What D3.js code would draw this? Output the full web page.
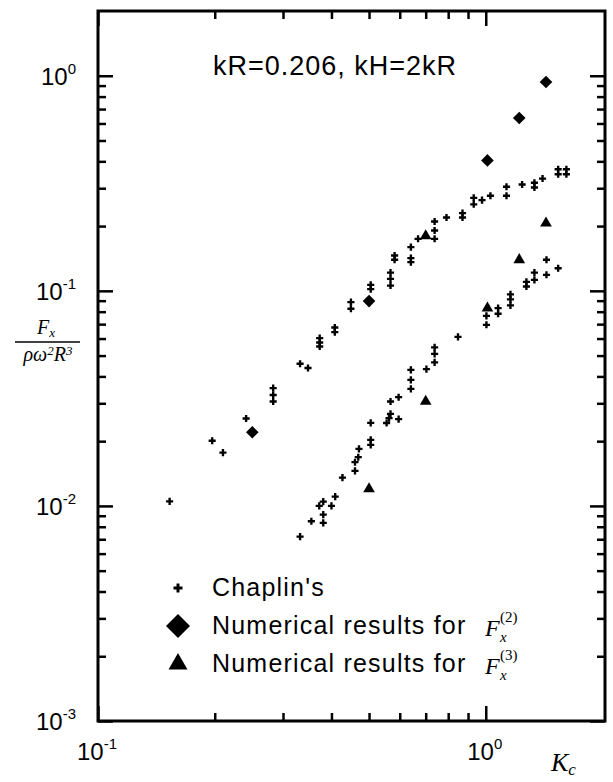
<!DOCTYPE html>
<html lang="en">
<head>
  <meta charset="UTF-8">
  <title>Fx vs Kc</title>
  <script src="https://d3js.org/d3.v7.min.js"></script>
  <style>
    body { margin: 0; background: #fff; }
    svg { display: block; }
    .sans { font-family: "Liberation Sans", Arial, Helvetica, sans-serif; fill: #000; }
    .serif { font-family: "Liberation Serif", "Times New Roman", serif; font-style: italic; fill: #000; }
  </style>
</head>
<body>
  <svg id="chart" width="613" height="782"></svg>

  <script>
    // Chaplin's measurements: K_c and Fx / (rho w^2 R^3)
    const chaplinK = [
      0.153, 0.197, 0.210, 0.241, 0.283, 0.283, 0.283, 0.332, 0.348, 0.373, 0.373, 0.373,
      0.408, 0.408, 0.449, 0.449, 0.505, 0.505, 0.568, 0.568, 0.568, 0.582, 0.582, 0.641,
      0.641, 0.641, 0.669, 0.738, 0.738, 0.738, 0.792, 0.871, 0.871, 0.931, 0.931, 0.978,
      1.028, 1.131, 1.131, 1.241, 1.335, 1.335, 1.401, 1.537, 1.537, 1.614, 1.614,
      0.332, 0.355, 0.372, 0.381, 0.400, 0.381, 0.381, 0.409, 0.427, 0.460, 0.460, 0.469,
      0.471, 0.505, 0.505, 0.505, 0.555, 0.563, 0.568, 0.596, 0.568, 0.596, 0.641, 0.641,
      0.641, 0.703, 0.738, 0.738, 0.738, 0.848, 1.004, 1.004, 1.076, 1.076, 1.158, 1.158,
      1.158, 1.273, 1.273, 1.335, 1.335, 1.434, 1.434, 1.537
    ];
    const chaplinF = [
      0.0105, 0.0201, 0.0177, 0.0255, 0.0353, 0.0328, 0.0306, 0.0458, 0.0438, 0.0603, 0.0575, 0.0551,
      0.0675, 0.0643, 0.0886, 0.0825, 0.1066, 0.1018, 0.1216, 0.1137, 0.1058, 0.1459, 0.1394, 0.1597,
      0.1419, 0.1360, 0.1745, 0.1745, 0.1908, 0.2100, 0.2192, 0.2298, 0.2192, 0.2707, 0.2525, 0.2642,
      0.2766, 0.3046, 0.2766, 0.3122, 0.3179, 0.3023, 0.3326, 0.3674, 0.3483, 0.3674, 0.3483,
      0.0072, 0.00849, 0.0100, 0.01047, 0.0100, 0.00911, 0.00834, 0.01105, 0.01354, 0.01455, 0.01597, 0.01685,
      0.01841, 0.02028, 0.01922, 0.02432, 0.0243, 0.02558, 0.02679, 0.02531, 0.0306, 0.03203, 0.04291, 0.03855,
      0.03501, 0.04323, 0.0546, 0.0509, 0.0465, 0.0611, 0.0765, 0.0695, 0.0831, 0.0782, 0.0963, 0.0913,
      0.0856, 0.1101, 0.1047, 0.1216, 0.1125, 0.1394, 0.1187, 0.1273
    ];

    // Numerical results for F_x^(2) (diamonds)
    const f2K = [0.25, 0.50, 1.01, 1.22, 1.43];
    const f2F = [0.0220, 0.0896, 0.404, 0.636, 0.935];

    // Numerical results for F_x^(3) (triangles)
    const f3K = [0.50, 0.70, 0.70, 1.01, 1.22, 1.43];
    const f3F = [0.0120, 0.0306, 0.180, 0.0831, 0.1394, 0.2064];

    // Axis ticks and labels
    const xMajorTicks = [0.1, 1];
    const xTickExps = ["-1", "0"];
    const xMinorTicks = [0.2, 0.3, 0.4, 0.5, 0.6, 0.7, 0.8, 0.9];
    const yMajorTicks = [0.001, 0.01, 0.1, 1];
    const yTickExps = ["-3", "-2", "-1", "0"];
    const minorSteps = [2, 3, 4, 5, 6, 7, 8, 9];
    const yMinorTicks = [0.001, 0.01, 0.1].flatMap(d => minorSteps.map(m => +(d * m).toPrecision(3)));

    const titleText = "kR=0.206, kH=2kR";
    const legendLabels = ["Chaplin's", "Numerical results for", "Numerical results for"];
    const legendOrders = [null, "(2)", "(3)"];

    const svg = d3.select("#chart");

    // Log scales, plot frame is 98..605 by 11..721
    const x = d3.scaleLog().domain([0.1, 2.03]).range([98, 605]);
    const y = d3.scaleLog().domain([0.001, 2]).range([721, 11]);

    // Inward tick marks on all four sides
    function ticks(axisFn, scale, values, len, transform) {
      svg.append("g")
        .attr("transform", transform)
        .call(axisFn(scale).tickValues(values).tickSize(-len).tickSizeOuter(0).tickFormat(""))
        .call(g => g.select(".domain").remove())
        .selectAll("line")
        .attr("stroke", "#000")
        .attr("stroke-width", 2.5);
    }
    ticks(d3.axisBottom, x, xMajorTicks, 15, "translate(0,721)");
    ticks(d3.axisBottom, x, xMinorTicks, 8, "translate(0,721)");
    ticks(d3.axisTop, x, xMajorTicks, 15, "translate(0,11)");
    ticks(d3.axisTop, x, xMinorTicks, 8, "translate(0,11)");
    ticks(d3.axisLeft, y, yMajorTicks, 15, "translate(98,0)");
    ticks(d3.axisLeft, y, yMinorTicks, 8, "translate(98,0)");
    ticks(d3.axisRight, y, yMajorTicks, 15, "translate(605,0)");
    ticks(d3.axisRight, y, yMinorTicks, 8, "translate(605,0)");

    // Frame
    svg.append("rect")
      .attr("x", 98).attr("y", 11)
      .attr("width", 507).attr("height", 710)
      .attr("fill", "none")
      .attr("stroke", "#000")
      .attr("stroke-width", 3);

    // Tick labels as 10 with superscript exponent
    yMajorTicks.forEach((v, i) => {
      const t = svg.append("text")
        .attr("class", "sans")
        .attr("x", 76)
        .attr("y", y(v) + 9)
        .attr("text-anchor", "end")
        .attr("font-size", 24);
      t.append("tspan").text("10");
      t.append("tspan").attr("font-size", 15).attr("dy", -11).text(yTickExps[i]);
    });
    xMajorTicks.forEach((v, i) => {
      const t = svg.append("text")
        .attr("class", "sans")
        .attr("x", x(v) - 1)
        .attr("y", 760)
        .attr("text-anchor", "middle")
        .attr("font-size", 24);
      t.append("tspan").text("10");
      t.append("tspan").attr("font-size", 15).attr("dy", -11).text(xTickExps[i]);
    });

    // Axis titles
    const xl = svg.append("text").attr("class", "serif").attr("x", 551).attr("y", 771).attr("font-size", 26);
    xl.append("tspan").text("K");
    xl.append("tspan").attr("font-size", 17).attr("dy", 4).text("c");

    const num = svg.append("text").attr("class", "serif").attr("x", 46).attr("y", 334)
      .attr("text-anchor", "middle").attr("font-size", 20);
    num.append("tspan").text("F");
    num.append("tspan").attr("font-size", 13).attr("dy", 3).text("x");
    svg.append("line")
      .attr("x1", 15).attr("x2", 80).attr("y1", 342).attr("y2", 342)
      .attr("stroke", "#000").attr("stroke-width", 1.5);
    const den = svg.append("text").attr("class", "serif").attr("x", 48).attr("y", 361)
      .attr("text-anchor", "middle").attr("font-size", 20);
    den.append("tspan").text("ρω");
    den.append("tspan").attr("font-size", 13).attr("dy", -6).text("2");
    den.append("tspan").attr("dy", 6).text("R");
    den.append("tspan").attr("font-size", 13).attr("dy", -6).text("3");

    // Title inside the plot
    svg.append("text")
      .attr("class", "sans")
      .attr("x", 213).attr("y", 75)
      .attr("font-size", 27)
      .attr("letter-spacing", 1)
      .text(titleText);

    // Marker generators
    const crossSym = d3.symbol().type(d3.symbolCross).size(28);
    const diamondPath = r => `M0,${-r}L${r},0L0,${r}L${-r},0Z`;
    const triSym = d3.symbol().type(d3.symbolTriangle).size(59);

    // Chaplin's points
    svg.append("g").selectAll("path")
      .data(d3.range(chaplinK.length))
      .join("path")
      .attr("transform", i => `translate(${x(chaplinK[i])},${y(chaplinF[i])})`)
      .attr("d", crossSym())
      .attr("fill", "#000");

    // F2 diamonds
    svg.append("g").selectAll("path")
      .data(d3.range(f2K.length))
      .join("path")
      .attr("transform", i => `translate(${x(f2K[i])},${y(f2F[i])})`)
      .attr("d", diamondPath(6.3))
      .attr("fill", "#000");

    // F3 triangles
    svg.append("g").selectAll("path")
      .data(d3.range(f3K.length))
      .join("path")
      .attr("transform", i => `translate(${x(f3K[i])},${y(f3F[i])})`)
      .attr("d", triSym())
      .attr("fill", "#000");

    // Legend
    const legendY = [596, 634, 672];
    const legendMarks = [
      d3.symbol().type(d3.symbolCross).size(45)(),
      diamondPath(12),
      d3.symbol().type(d3.symbolTriangle).size(156)()
    ];
    legendLabels.forEach((label, i) => {
      svg.append("path")
        .attr("transform", `translate(178,${legendY[i] - 8})`)
        .attr("d", legendMarks[i])
        .attr("fill", "#000");
      svg.append("text")
        .attr("class", "sans")
        .attr("x", 212).attr("y", legendY[i])
        .attr("font-size", 25)
        .attr("letter-spacing", 1.2)
        .text(label);
      if (legendOrders[i]) {
        svg.append("text").attr("class", "serif")
          .attr("x", 485).attr("y", legendY[i] + 2).attr("font-size", 24).text("F");
        svg.append("text").attr("class", "serif")
          .attr("x", 500).attr("y", legendY[i] + 8).attr("font-size", 15).text("x");
        svg.append("text").attr("class", "serif").style("font-style", "normal")
          .attr("x", 500).attr("y", legendY[i] - 12).attr("font-size", 15).text(legendOrders[i]);
      }
    });
  </script>
</body>
</html>
